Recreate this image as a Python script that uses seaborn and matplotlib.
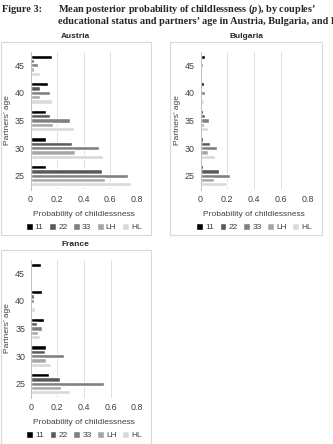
import pandas as pd
import matplotlib
matplotlib.use("Agg")
import matplotlib.pyplot as plt
from matplotlib.patches import Rectangle
import seaborn as sns

# data
ages = ["45", "40", "35", "30", "25"]
groups = ["11", "22", "33", "LH", "HL"]
colors = ["#000000", "#595959", "#808080", "#a6a6a6", "#d9d9d9"]

# values per age (45 -> 25), one list per educational pairing
austria = {
    "11": [0.158, 0.133, 0.120, 0.113, 0.116],
    "22": [0.028, 0.070, 0.150, 0.312, 0.536],
    "33": [0.060, 0.146, 0.300, 0.516, 0.730],
    "LH": [0.028, 0.070, 0.166, 0.332, 0.556],
    "HL": [0.070, 0.160, 0.327, 0.548, 0.755],
}
bulgaria = {
    "11": [0.035, 0.027, 0.022, 0.020, 0.022],
    "22": [0.010, 0.012, 0.037, 0.072, 0.137],
    "33": [0.015, 0.035, 0.062, 0.122, 0.220],
    "LH": [0.005, 0.010, 0.025, 0.055, 0.102],
    "HL": [0.012, 0.027, 0.055, 0.105, 0.200],
}
france = {
    "11": [0.080, 0.085, 0.098, 0.115, 0.140],
    "22": [0.005, 0.025, 0.050, 0.110, 0.220],
    "33": [0.008, 0.025, 0.085, 0.252, 0.548],
    "LH": [0.003, 0.012, 0.052, 0.115, 0.230],
    "HL": [0.012, 0.032, 0.072, 0.155, 0.295],
}

W, H = 333, 444


def long_df(d):
    rows = []
    for g in groups:
        for a, v in zip(ages, d[g]):
            rows.append({"age": a, "edu": g, "p": v})
    return pd.DataFrame(rows)


def fig_rect(x0, y0, x1, y1):
    # pixel box (top-left origin) -> figure fraction [left, bottom, w, h]
    return [x0 / W, 1 - y1 / H, (x1 - x0) / W, (y1 - y0) / H]


sns.set_theme(style="white")
plt.rcParams["font.family"] = ["Liberation Sans", "DejaVu Sans"]
plt.rcParams["mathtext.fontset"] = "custom"
plt.rcParams["mathtext.it"] = "Liberation Serif:italic:bold"

fig = plt.figure(figsize=(W / 100, H / 100), dpi=100)
fig.patch.set_facecolor("white")

fs = 5.6
panels = [
    ("Austria", austria, (0.5, 42, 151, 235), (30.5, 51.5, 137, 189.5)),
    ("Bulgaria", bulgaria, (170, 42, 322, 235), (200.5, 51.5, 307.5, 189.5)),
    ("France", france, (0.5, 250, 151, 460), (30.7, 259.5, 137.3, 397.5)),
]

for name, d, box, axbox in panels:
    bx0, by0, bx1, by1 = box
    fig.patches.append(Rectangle((bx0 / W, 1 - by1 / H), (bx1 - bx0) / W,
                                 (by1 - by0) / H, transform=fig.transFigure,
                                 facecolor="none", edgecolor="#d9d9d9", lw=0.8))
    fig.text((bx0 + bx1) / 2 / W, 1 - (by0 - 6) / H, name, ha="center",
             va="center", fontsize=fs + 0.4, fontweight="bold")

    ax = fig.add_axes(fig_rect(*axbox))
    sns.barplot(data=long_df(d), x="p", y="age", hue="edu", order=ages,
                hue_order=groups, palette=colors, orient="h", width=0.78,
                saturation=1, errorbar=None, ax=ax)
    ax.set_xlim(0, 0.8)
    ax.set_xticks([0, 0.2, 0.4, 0.6, 0.8])
    ax.set_xticklabels(["0", "0.2", "0.4", "0.6", "0.8"])
    ax.grid(axis="x", color="#d9d9d9", lw=0.6)
    ax.set_axisbelow(True)
    for s in ["top", "right", "bottom"]:
        ax.spines[s].set_visible(False)
    ax.spines["left"].set_color("#bfbfbf")
    ax.spines["left"].set_linewidth(0.7)
    ax.tick_params(length=0, labelsize=fs + 0.8, pad=4, colors="#404040")
    ax.set_xlabel("Probability of childlessness", fontsize=fs + 0.4,
                  color="#404040", labelpad=5)
    ax.set_ylabel("Partners’ age", fontsize=fs + 0.4, color="#404040",
                  labelpad=3)
    handles, labels = ax.get_legend_handles_labels()
    ax.legend(handles, labels, loc="upper center", bbox_to_anchor=(0.5, -0.19),
              ncol=5, frameon=False, fontsize=fs + 0.4, handlelength=0.8,
              handleheight=0.8, handletextpad=0.25, columnspacing=0.7,
              labelcolor="#404040")

title_kw = dict(fontsize=7.35, fontweight="bold", family="Liberation Serif",
                va="center")
fig.text(2 / W, 1 - 9 / H, "Figure 3:", **title_kw)
fig.text(58 / W, 1 - 9 / H,
         "Mean posterior probability of childlessness ($p$), by couples’",
         **title_kw)
fig.text(58 / W, 1 - 22 / H,
         "educational status and partners’ age in Austria, Bulgaria, and France",
         **title_kw)

fig.savefig("out.png", dpi=100)
